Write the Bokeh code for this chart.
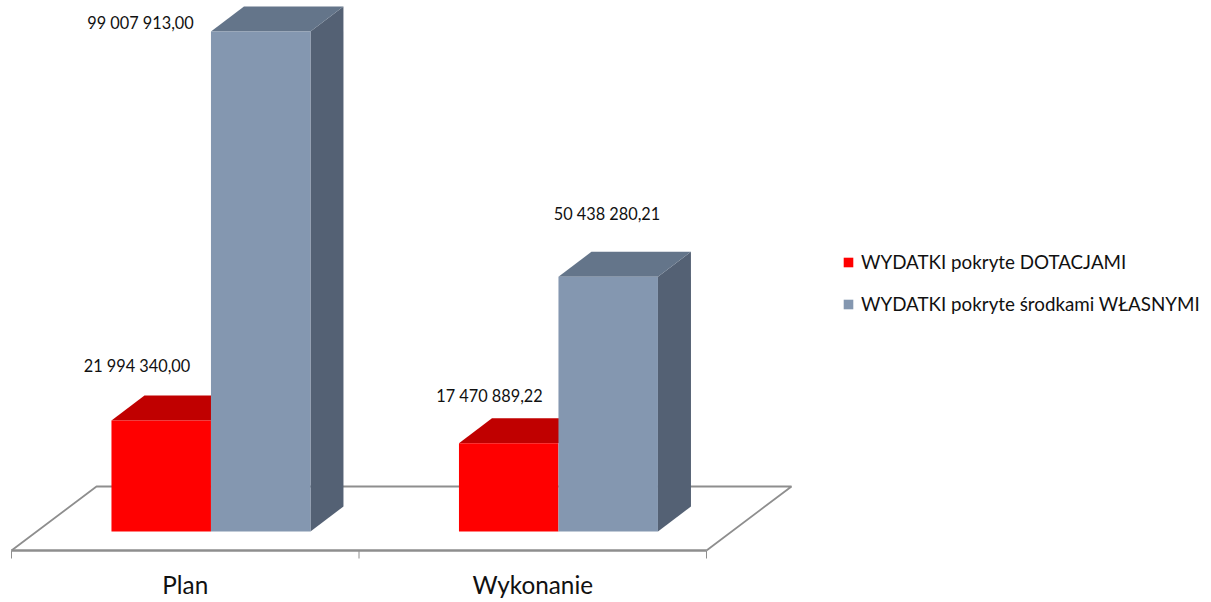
from bokeh.plotting import figure
from bokeh.models import Range1d, Legend, LegendItem
from bokeh.core.properties import value
from bokeh.embed import file_html
from bokeh.resources import INLINE

# ---- data ----
categories = ["Plan", "Wykonanie"]
series_names = ["WYDATKI pokryte DOTACJAMI", "WYDATKI pokryte środkami WŁASNYMI"]
dotacje = [21994340.00, 17470889.22]
wlasne = [99007913.00, 50438280.21]
dotacje_labels = ["21 994 340,00", "17 470 889,22"]
wlasne_labels = ["99 007 913,00", "50 438 280,21"]

# ---- layout (pixels on the page) ----
W, H = 1211, 602
CAT_PX = 347.5            # one category slot
X0_PX = 11                # page x of the category axis start
Y0_PX = 531               # page y of value zero
VAL_PER_PX = 99007913.0 / 500
BAR_W = 99.5 / CAT_PX
GROUP_SHIFT = 0.074
DX, DY = 33 / CAT_PX, 25 * VAL_PER_PX       # bar depth
FLOOR_FRONT = -19 * VAL_PER_PX
FLOOR_BACK = 45 * VAL_PER_PX
FLOOR_DX = 85 / CAT_PX
TICK = 8 * VAL_PER_PX

FONT = "Lato"
RED, RED_TOP = "#FF0000", "#C00000"
BLUE, BLUE_TOP, BLUE_SIDE = "#8497B0", "#64758A", "#546174"
GREY = "#8E8E8E"

p = figure(width=W, height=H, output_backend="svg", toolbar_location=None,
           x_range=Range1d(-X0_PX / CAT_PX, (W - X0_PX) / CAT_PX),
           y_range=Range1d((Y0_PX - H) * VAL_PER_PX, Y0_PX * VAL_PER_PX),
           min_border=0, outline_line_color=None)
p.axis.visible = False
p.grid.visible = False

n = len(categories)

# floor
p.patch([0, n, n + FLOOR_DX, FLOOR_DX],
        [FLOOR_FRONT, FLOOR_FRONT, FLOOR_BACK, FLOOR_BACK],
        fill_color="white", line_color=None)
p.line([0, FLOOR_DX, n + FLOOR_DX, n],
       [FLOOR_FRONT, FLOOR_BACK, FLOOR_BACK, FLOOR_FRONT],
       line_color=GREY, line_width=1.8)
p.line([0, n], [FLOOR_FRONT, FLOOR_FRONT], line_color=GREY, line_width=2.6)
p.segment(list(range(n + 1)), [FLOOR_FRONT] * (n + 1),
          list(range(n + 1)), [FLOOR_FRONT - TICK] * (n + 1),
          line_color=GREY, line_width=1)

centers = [i + 0.5 + GROUP_SHIFT for i in range(n)]
left = [c - BAR_W for c in centers]
right = [c + BAR_W for c in centers]

# red bars: top face, then front
p.patches([[l, l + DX, c + DX, c] for l, c in zip(left, centers)],
          [[v, v + DY, v + DY, v] for v in dotacje],
          fill_color=RED_TOP, line_color=None)
r_red = p.vbar(x=[(l + c) / 2 for l, c in zip(left, centers)], width=BAR_W,
               bottom=0, top=dotacje, fill_color=RED, line_color=None)

# blue bars: side, top, front
p.patches([[r, r + DX, r + DX, r] for r in right],
          [[0, DY, v + DY, v] for v in wlasne],
          fill_color=BLUE_SIDE, line_color=None)
p.patches([[c, c + DX, r + DX, r] for c, r in zip(centers, right)],
          [[v, v + DY, v + DY, v] for v in wlasne],
          fill_color=BLUE_TOP, line_color=None)
r_blue = p.vbar(x=[(c + r) / 2 for c, r in zip(centers, right)], width=BAR_W,
                bottom=0, top=wlasne, fill_color=BLUE, line_color=None)

# data labels
def lbl(x_px, y_px, txt):
    p.text([(x_px - X0_PX) / CAT_PX], [(Y0_PX - y_px) * VAL_PER_PX], text=[txt],
           text_font=value(FONT), text_font_size="16.3px", text_color="#111111",
           text_align="center", text_baseline="middle")

for i, (cx, cy) in enumerate([(136.5, 365), (489, 395)]):
    lbl(cx, cy, dotacje_labels[i])
for i, (cx, cy) in enumerate([(140, 22), (606.5, 213)]):
    lbl(cx, cy, wlasne_labels[i])

# category labels
p.text([i + 0.5 for i in range(n)], [(Y0_PX - 584) * VAL_PER_PX] * n, text=categories,
       text_font=value(FONT), text_font_size="24.3px", text_color="#111111",
       text_align="center", text_baseline="middle")

# legend
leg = Legend(items=[LegendItem(label=series_names[0], renderers=[r_red]),
                    LegendItem(label=series_names[1], renderers=[r_blue])],
             location=(842, H - 315), border_line_color=None, background_fill_alpha=0,
             glyph_width=12, glyph_height=12, label_standoff=7, spacing=19, padding=8,
             label_text_font=FONT, label_text_font_size="18.8px", label_text_color="#111111",
             margin=0)
p.add_layout(leg, "center")

open("out.html", "w").write(file_html(p, INLINE))
